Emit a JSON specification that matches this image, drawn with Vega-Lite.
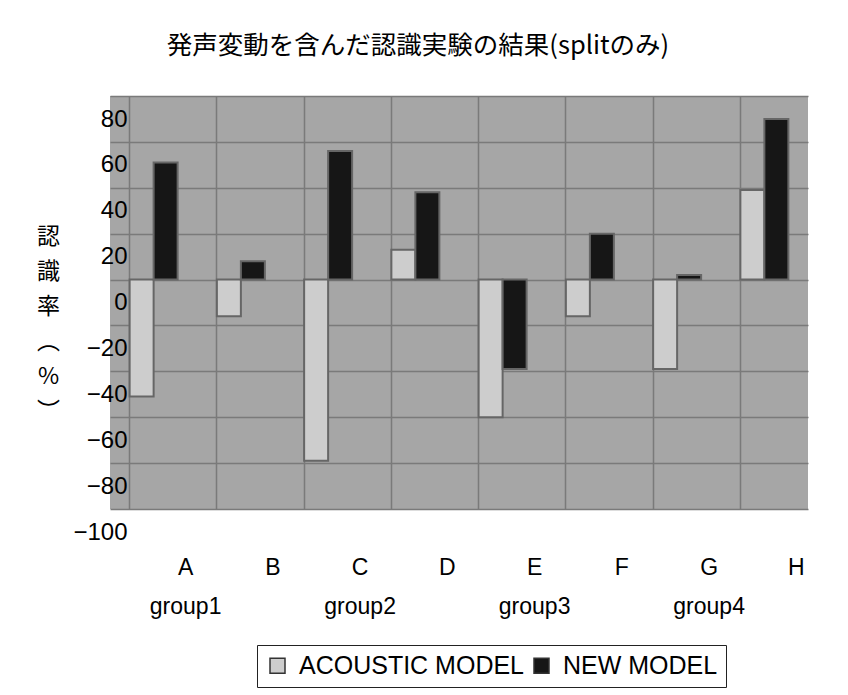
{
  "$schema": "https://vega.github.io/schema/vega-lite/v6.json",
  "width": 698,
  "height": 413,
  "autosize": "none",
  "padding": {"left": 110, "top": 96, "right": 40, "bottom": 186},
  "background": "white",
  "title": {
    "text": "発声変動を含んだ認識実験の結果(splitのみ)",
    "font": "Noto Sans CJK JP",
    "fontSize": 25.5,
    "fontWeight": "normal",
    "color": "black",
    "anchor": "middle",
    "dx": -41,
    "offset": 37
  },
  "data": {
    "values": [
      {"label": "A", "model": "ACOUSTIC MODEL", "rate": -51},
      {"label": "A", "model": "NEW MODEL", "rate": 51},
      {"label": "B", "model": "ACOUSTIC MODEL", "rate": -16},
      {"label": "B", "model": "NEW MODEL", "rate": 8},
      {"label": "C", "model": "ACOUSTIC MODEL", "rate": -79},
      {"label": "C", "model": "NEW MODEL", "rate": 56},
      {"label": "D", "model": "ACOUSTIC MODEL", "rate": 13},
      {"label": "D", "model": "NEW MODEL", "rate": 38},
      {"label": "E", "model": "ACOUSTIC MODEL", "rate": -60},
      {"label": "E", "model": "NEW MODEL", "rate": -39},
      {"label": "F", "model": "ACOUSTIC MODEL", "rate": -16},
      {"label": "F", "model": "NEW MODEL", "rate": 20},
      {"label": "G", "model": "ACOUSTIC MODEL", "rate": -39},
      {"label": "G", "model": "NEW MODEL", "rate": 2},
      {"label": "H", "model": "ACOUSTIC MODEL", "rate": 39},
      {"label": "H", "model": "NEW MODEL", "rate": 70}
    ]
  },
  "mark": {"type": "bar", "stroke": "#666666", "strokeWidth": 2},
  "encoding": {
    "x": {
      "field": "label",
      "type": "nominal",
      "sort": ["A", "B", "C", "D", "E", "F", "G", "H"],
      "scale": {"paddingInner": 0.45, "paddingOuter": 0.225},
      "axis": {
        "title": null,
        "ticks": false,
        "domain": false,
        "grid": true,
        "bandPosition": 0,
        "gridColor": "#7a7a7a",
        "gridWidth": 1.5,
        "labelAngle": 0,
        "labelFont": "Liberation Sans",
        "labelFontSize": 23,
        "labelColor": "black",
        "labelPadding": 47,
        "labelOffset": 32,
        "labelLineHeight": 39,
        "labelExpr": "datum.value == 'A' ? ['A', 'group1'] : datum.value == 'C' ? ['C', 'group2'] : datum.value == 'E' ? ['E', 'group3'] : datum.value == 'G' ? ['G', 'group4'] : datum.value"
      }
    },
    "xOffset": {
      "field": "model",
      "sort": ["ACOUSTIC MODEL", "NEW MODEL"],
      "scale": {"paddingInner": 0}
    },
    "y": {
      "field": "rate",
      "type": "quantitative",
      "scale": {"domain": [-100, 80], "nice": false},
      "axis": {
        "values": [-100, -80, -60, -40, -20, 0, 20, 40, 60, 80],
        "grid": true,
        "gridColor": "#7a7a7a",
        "gridWidth": 1.5,
        "ticks": false,
        "domain": false,
        "labelFont": "Liberation Sans",
        "labelFontSize": 24,
        "labelColor": "black",
        "labelPadding": -17,
        "labelOffset": 23,
        "title": ["認", "識", "率", "︵", "%", "︶"],
        "titleAngle": 0,
        "titleX": -62,
        "titleY": 129,
        "titleAlign": "center",
        "titleBaseline": "top",
        "titleFont": "Noto Sans CJK JP",
        "titleFontSize": 23,
        "titleFontWeight": "normal",
        "titleColor": "black",
        "titleLineHeight": 35
      }
    },
    "fill": {
      "field": "model",
      "type": "nominal",
      "scale": {"domain": ["ACOUSTIC MODEL", "NEW MODEL"], "range": ["#cdcdcd", "#161616"]},
      "legend": {
        "orient": "none",
        "legendX": 147,
        "legendY": 549,
        "direction": "horizontal",
        "title": null,
        "strokeColor": "#222222",
        "padding": 8,
        "labelFont": "Liberation Sans",
        "labelFontSize": 25,
        "labelLimit": 400,
        "labelColor": "black",
        "labelOffset": 9,
        "columnPadding": 4,
        "symbolType": "square",
        "symbolSize": 225,
        "symbolStrokeColor": "#333333",
        "symbolStrokeWidth": 1.5
      }
    }
  },
  "config": {
    "view": {"fill": "#a6a6a6", "stroke": null}
  }
}
